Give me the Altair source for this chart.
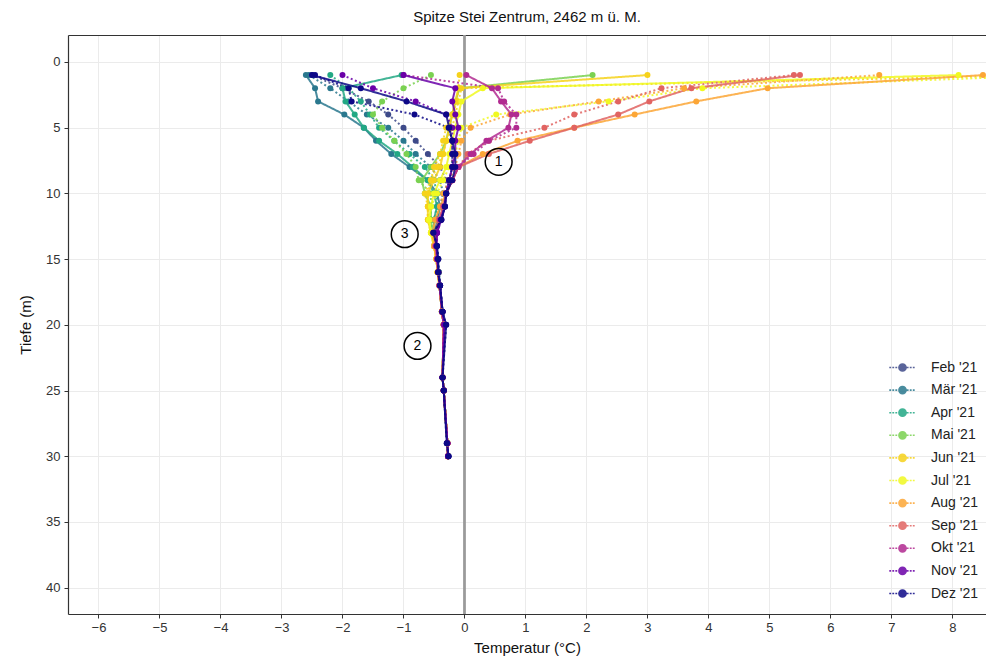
import altair as alt
import pandas as pd

MONTHS = ["Feb '21", "Mär '21", "Apr '21", "Mai '21", "Jun '21", "Jul '21",
          "Aug '21", "Sep '21", "Okt '21", "Nov '21", "Dez '21"]
COLORS = ["#3e4a89", "#2a788e", "#22a884", "#7ad151", "#f6d21b", "#f0f921",
          "#fca636", "#e16462", "#b12a90", "#6a00a8", "#0d0887"]

DEPTH_UPPER = [1, 2, 3, 4, 5, 6, 7, 8, 9, 10]
DEPTH_DEEP = [11, 12, 13, 14, 15, 16, 17, 19, 20, 24, 25, 29, 30]

# upper profiles (1-10 m): month, line style, temperatures
PROFILES = [
    ("Feb '21", "dotted", [-2.5, -2.0, -1.57, -1.25, -1.0, -0.8, -0.6, -0.4, -0.3, -0.3]),
    ("Mär '21", "solid",  [-2.6, -2.45, -2.4, -1.97, -1.65, -1.45, -1.2, -0.9, -0.6, -0.45]),
    ("Mär '21", "dotted", [-2.55, -2.2, -1.9, -1.6, -1.25, -1.0, -0.8, -0.55, -0.4, -0.35]),
    ("Apr '21", "solid",  [-1.03, -2.0, -1.95, -1.8, -1.65, -1.4, -1.1, -0.85, -0.6, -0.5]),
    ("Apr '21", "dotted", [-2.2, -1.9, -1.7, -1.55, -1.4, -1.15, -0.9, -0.65, -0.5, -0.45]),
    ("Mai '21", "solid",  [2.1, -0.08, -0.15, -0.2, -0.25, -0.3, -0.4, -0.55, -0.7, -0.65]),
    ("Mai '21", "dotted", [-0.55, -1.0, -1.35, -1.5, -1.35, -1.15, -0.95, -0.8, -0.75, -0.55]),
    ("Jun '21", "solid",  [3.0, -0.1, -0.15, -0.2, -0.25, -0.3, -0.35, -0.4, -0.5, -0.6]),
    ("Jun '21", "dotted", [9.5, -0.05, -0.1, -0.15, -0.2, -0.3, -0.35, -0.45, -0.55, -0.65]),
    ("Jun '21", "dotted", [-0.08, -0.1, -0.12, -0.2, -0.3, -0.35, -0.4, -0.5, -0.55, -0.6]),
    ("Jul '21", "solid",  [8.1, 0.3, -0.05, -0.1, -0.15, -0.2, -0.25, -0.3, -0.4, -0.5]),
    ("Jul '21", "dotted", [9.8, 3.9, 2.36, 0.52, -0.05, -0.1, -0.15, -0.25, -0.35, -0.45]),
    ("Aug '21", "solid",  [8.5, 4.97, 3.8, 2.79, 1.8, 0.87, 0.3, -0.1, -0.2, -0.3]),
    ("Aug '21", "dotted", [6.8, 3.6, 2.2, 0.75, 0.1, -0.05, -0.1, -0.15, -0.25, -0.35]),
    ("Sep '21", "solid",  [5.5, 3.72, 3.03, 2.52, 1.8, 1.07, 0.4, -0.1, -0.2, -0.3]),
    ("Sep '21", "dotted", [5.4, 3.23, 2.52, 1.8, 1.31, 0.4, 0.05, -0.1, -0.2, -0.3]),
    ("Okt '21", "solid",  [0.03, 0.45, 0.6, 0.77, 0.72, 0.36, 0.1, -0.1, -0.2, -0.3]),
    ("Okt '21", "dotted", [-1.0, 0.55, 0.65, 0.85, 0.85, 0.4, 0.15, -0.1, -0.2, -0.3]),
    ("Nov '21", "solid",  [-1.0, -0.15, -0.2, -0.15, -0.1, -0.15, -0.15, -0.2, -0.25, -0.3]),
    ("Nov '21", "dotted", [-2.0, -1.5, -0.8, -0.3, -0.2, -0.2, -0.2, -0.2, -0.25, -0.3]),
    ("Dez '21", "solid",  [-2.5, -1.7, -0.95, -0.3, -0.25, -0.2, -0.15, -0.15, -0.2, -0.3]),
    ("Dez '21", "dotted", [-2.45, -1.9, -1.85, -0.82, -0.26, -0.2, -0.2, -0.2, -0.25, -0.3]),
]

# deep part (11-30 m) per month
TAILS = {
    "Feb '21": [-0.35, -0.4, -0.45, -0.45, -0.43, -0.42, -0.4, -0.36, -0.33, -0.36, -0.34, -0.28, -0.27],
    "Mär '21": [-0.4, -0.45, -0.48, -0.46, -0.44, -0.42, -0.4, -0.36, -0.33, -0.36, -0.34, -0.28, -0.27],
    "Apr '21": [-0.45, -0.5, -0.5, -0.47, -0.45, -0.43, -0.41, -0.37, -0.34, -0.36, -0.34, -0.28, -0.27],
    "Mai '21": [-0.55, -0.55, -0.52, -0.48, -0.45, -0.43, -0.41, -0.37, -0.34, -0.36, -0.34, -0.28, -0.27],
    "Jun '21": [-0.6, -0.6, -0.55, -0.5, -0.46, -0.44, -0.41, -0.37, -0.34, -0.36, -0.34, -0.28, -0.27],
    "Jul '21": [-0.55, -0.58, -0.55, -0.5, -0.46, -0.44, -0.41, -0.37, -0.34, -0.36, -0.34, -0.28, -0.27],
    "Aug '21": [-0.4, -0.48, -0.52, -0.5, -0.46, -0.44, -0.41, -0.37, -0.34, -0.36, -0.34, -0.28, -0.27],
    "Sep '21": [-0.35, -0.42, -0.48, -0.48, -0.45, -0.43, -0.41, -0.37, -0.34, -0.36, -0.34, -0.28, -0.27],
    "Okt '21": [-0.33, -0.4, -0.45, -0.46, -0.45, -0.43, -0.41, -0.37, -0.34, -0.36, -0.34, -0.28, -0.27],
    "Nov '21": [-0.32, -0.38, -0.45, -0.46, -0.44, -0.43, -0.4, -0.36, -0.33, -0.36, -0.34, -0.28, -0.27],
    "Dez '21": [-0.32, -0.38, -0.51, -0.45, -0.43, -0.43, -0.4, -0.36, -0.3, -0.36, -0.34, -0.29, -0.26],
}

ANN_T = [0.56, -0.77, -0.98]
ANN_D = [7.6, 21.6, 13.1]
ANN_LABEL = ["1", "2", "3"]

rows = []
for i, (m, style, upper) in enumerate(PROFILES):
    pid = f"{i:02d}"
    temps = upper + TAILS[m]
    depths = DEPTH_UPPER + DEPTH_DEEP
    for d, t in zip(depths, temps):
        rows.append({"month": m, "style": style, "pid": pid, "depth": d, "T": t})
df = pd.DataFrame(rows)
ann = pd.DataFrame({"T": ANN_T, "depth": ANN_D, "label": ANN_LABEL})

xscale = alt.Scale(domain=[-6.5, 8.55], nice=False, zero=False)
yscale = alt.Scale(domain=[-2.05, 42], reverse=True, nice=False, zero=False)

# legend symbol: dotted line with a round dot in the middle
dash_starts = [-1.0, -0.77, -0.54, 0.32, 0.55, 0.78]
legend_path = "".join(f"M{s},0h0.14" for s in dash_starts) + \
    "M-0.27,0A0.27,0.27,0,1,1,0.27,0A0.27,0.27,0,1,1,-0.27,0Z"

base = alt.Chart(df)

xax = alt.Axis(values=list(range(-6, 9)), title="Temperatur (°C)", grid=True, format="d")
yax = alt.Axis(values=list(range(0, 41, 5)), title="Tiefe (m)", grid=True)

color = alt.Color("month:N", scale=alt.Scale(domain=MONTHS, range=COLORS),
                  legend=alt.Legend(title=None, orient="none", legendX=820, legendY=318,
                                    symbolType=legend_path, symbolSize=700,
                                    symbolStrokeWidth=1.6,
                                    labelFontSize=14, labelOffset=14, rowPadding=0.6,
                                    labelColor="#222"))

lines = base.mark_line(strokeWidth=2, opacity=0.85, clip=True).encode(
    x=alt.X("T:Q", scale=xscale, axis=xax),
    y=alt.Y("depth:Q", scale=yscale, axis=yax),
    color=color,
    strokeDash=alt.StrokeDash("style:N",
                              scale=alt.Scale(domain=["solid", "dotted"], range=[[1, 0], [2, 2.5]]),
                              legend=None),
    detail="pid:N",
    order="depth:Q",
)

points = base.mark_point(filled=True, size=36, opacity=1, clip=True).encode(
    x=alt.X("T:Q", scale=xscale, axis=None),
    y=alt.Y("depth:Q", scale=yscale),
    color=color,
)

zero = alt.Chart(ann).mark_rule(color="#9a9a9a", strokeWidth=2).encode(
    x=alt.XDatum(0, scale=xscale, axis=None))

circles = alt.Chart(ann).mark_point(shape="circle", size=720, filled=False,
                                     color="black", strokeWidth=1.5, opacity=1).encode(
    x=alt.X("T:Q", scale=xscale, axis=None),
    y=alt.Y("depth:Q", scale=yscale),
)
texts = alt.Chart(ann).mark_text(fontSize=14, color="black", font="Liberation Sans").encode(
    x=alt.X("T:Q", scale=xscale,
            axis=alt.Axis(orient="top", labels=False, ticks=False, title=None, grid=False,
                          domainColor="#333", domainWidth=1.2)),
    y=alt.Y("depth:Q", scale=yscale),
    text="label:N",
)

chart = alt.layer(zero, lines, points, circles, texts).resolve_axis(x="independent").properties(
    width=918, height=579,
    title=alt.Title("Spitze Stei Zentrum, 2462 m ü. M.", fontSize=15, fontWeight="normal",
                    font="Liberation Sans", color="#111", offset=9),
    autosize=alt.AutoSizeParams(type="none"),
    padding={"left": 68, "top": 35, "right": 0, "bottom": 51},
).configure_view(stroke=None).configure_axis(
    labelFont="Liberation Sans", titleFont="Liberation Sans",
    labelFontSize=13, titleFontSize=15, titleFontWeight="normal",
    labelColor="#333", titleColor="#111",
    gridColor="#ebebeb", gridWidth=1,
    domainColor="#333", domainWidth=1.2,
    tickColor="#333", tickSize=4,
).configure_axisX(titlePadding=6, labelPadding=3).configure_axisY(titlePadding=12, labelPadding=4
).configure_legend(labelFont="Liberation Sans")

chart.save("out.html", embed_options={"renderer": "svg", "actions": False})
